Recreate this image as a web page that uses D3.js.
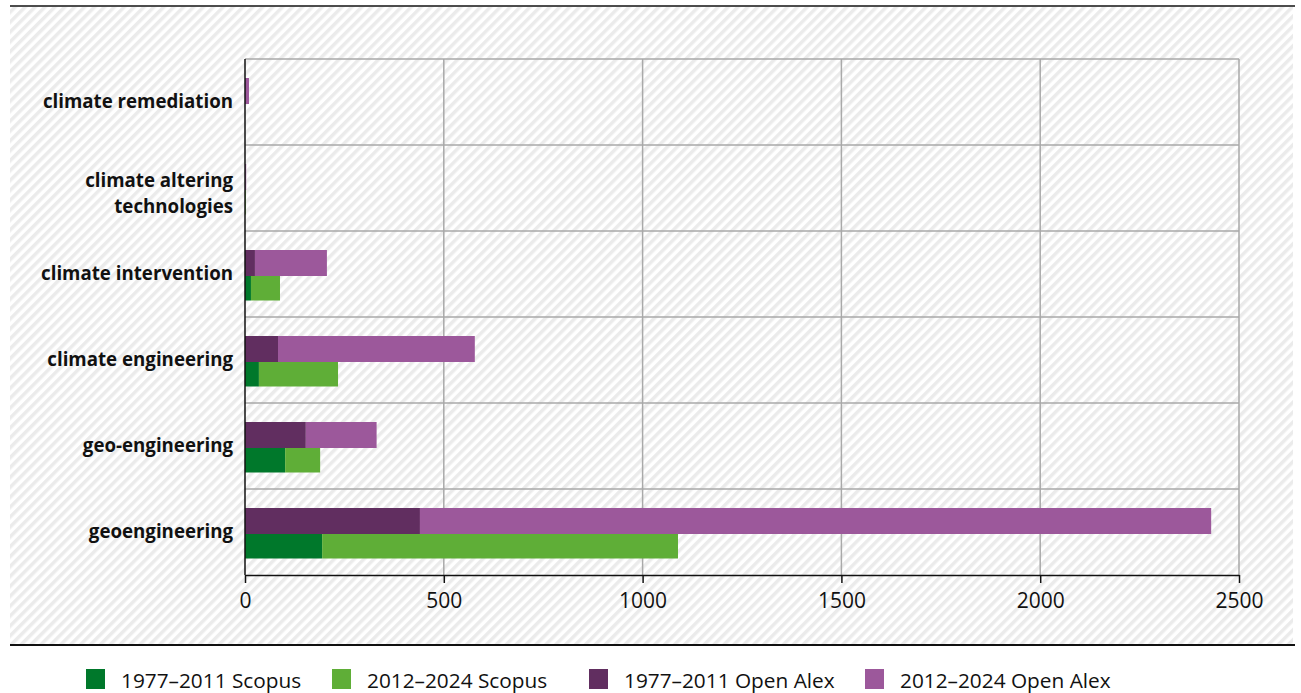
<!DOCTYPE html>
<html>
<head>
<meta charset="utf-8">
<script src="https://cdn.jsdelivr.net/npm/d3@7"></script>
<style>
  body { margin: 0; background: #fff; }
  svg { display: block; font-family: "Open Sans", "Noto Sans", sans-serif; }
</style>
</head>
<body>
<svg id="svg" width="1301" height="693"></svg>
<script>
// categories from top to bottom
var categories = [
  "climate remediation",
  "climate altering technologies",
  "climate intervention",
  "climate engineering",
  "geo-engineering",
  "geoengineering"
];
// Open Alex counts
var openAlexEarly = [0, 0, 25, 83, 153, 440];
var openAlexLate = [10, 3, 181, 495, 178, 1990];
// Scopus counts
var scopusEarly = [0, 0, 15, 35, 101, 194];
var scopusLate = [0, 2, 73, 199, 88, 895];

var xTicks = [0, 500, 1000, 1500, 2000, 2500];
var legendLabels = ["1977–2011 Scopus", "2012–2024 Scopus", "1977–2011 Open Alex", "2012–2024 Open Alex"];
var colors = ["#00782b", "#5fae37", "#612e60", "#9c589b"];

var svg = d3.select("#svg");

// hatched background
var pat = svg.append("defs").append("pattern")
  .attr("id", "hatch")
  .attr("patternUnits", "userSpaceOnUse")
  .attr("width", 7)
  .attr("height", 7)
  .attr("patternTransform", "rotate(45)");
pat.append("rect").attr("width", 7).attr("height", 7).attr("fill", "#fff");
pat.append("rect").attr("width", 3.5).attr("height", 7).attr("fill", "#ebebeb");

svg.append("rect")
  .attr("x", 10).attr("y", 7)
  .attr("width", 1283).attr("height", 637)
  .attr("fill", "url(#hatch)");

svg.append("line").attr("x1", 10).attr("x2", 1295).attr("y1", 6).attr("y2", 6)
  .attr("stroke", "#111").attr("stroke-width", 1.5);
svg.append("line").attr("x1", 10).attr("x2", 1295).attr("y1", 645).attr("y2", 645)
  .attr("stroke", "#111").attr("stroke-width", 2);

var plotLeft = 245, plotRight = 1239, plotTop = 59, plotBottom = 575;

var x = d3.scaleLinear().domain([0, 2500]).range([plotLeft, plotRight]);
var y = d3.scaleBand().domain(categories).range([plotTop, plotBottom]);

// gridlines
var grid = svg.append("g").attr("stroke", "#a9a9a9").attr("stroke-width", 1.5);
grid.selectAll(".vg").data(xTicks.slice(1)).enter().append("line")
  .attr("x1", d => x(d)).attr("x2", d => x(d))
  .attr("y1", plotTop).attr("y2", plotBottom);
grid.selectAll(".hg").data(categories).enter().append("line")
  .attr("x1", plotLeft).attr("x2", plotRight)
  .attr("y1", d => y(d)).attr("y2", d => y(d));

// bars: Open Alex above the band centre, Scopus below
var shift = 2;
function drawStack(early, late, cEarly, cLate, offset, h) {
  var g = svg.append("g");
  categories.forEach(function (c, i) {
    var yy = y(c) + y.bandwidth() / 2 + shift + offset;
    g.append("rect")
      .attr("x", x(0)).attr("y", yy)
      .attr("width", x(early[i]) - x(0)).attr("height", h)
      .attr("fill", cEarly);
    g.append("rect")
      .attr("x", x(early[i])).attr("y", yy)
      .attr("width", x(early[i] + late[i]) - x(early[i])).attr("height", h)
      .attr("fill", cLate);
  });
}
drawStack(openAlexEarly, openAlexLate, colors[2], colors[3], -26, 26);
drawStack(scopusEarly, scopusLate, colors[0], colors[1], 0, 24.5);

// axes
var xAxis = svg.append("g")
  .attr("transform", `translate(0, ${plotBottom})`)
  .call(d3.axisBottom(x).tickValues(xTicks).tickSize(8).tickSizeOuter(0).tickPadding(10).tickFormat(d3.format("d")));
xAxis.select(".domain").attr("stroke", "#111").attr("stroke-width", 1.5);
xAxis.selectAll(".tick line").attr("stroke", "#111").attr("stroke-width", 1.5);
xAxis.selectAll("text").attr("font-size", 21).attr("fill", "#111")
  .attr("font-family", "'Open Sans', sans-serif");

svg.append("line")
  .attr("x1", plotLeft).attr("x2", plotLeft).attr("y1", plotTop).attr("y2", plotBottom)
  .attr("stroke", "#111").attr("stroke-width", 1.5);

// category labels
var labelLines = {
  "climate altering technologies": ["climate altering", "technologies"]
};
categories.forEach(function (c) {
  var lines = labelLines[c] || [c];
  var cy = y(c) + y.bandwidth() / 2;
  var t = svg.append("text")
    .attr("x", 233)
    .attr("text-anchor", "end")
    .attr("font-size", 18.7)
    .attr("font-weight", "bold")
    .attr("fill", "#111");
  lines.forEach(function (l, k) {
    t.append("tspan")
      .attr("x", 233)
      .attr("y", cy + (k - (lines.length - 1) / 2) * 26 + (lines.length > 1 ? 11.5 : 6))
      .text(l);
  });
});

// legend
var legendX = [86, 332, 589, 865];
var legend = svg.append("g");
legendLabels.forEach(function (l, i) {
  legend.append("rect")
    .attr("x", legendX[i]).attr("y", 669)
    .attr("width", 19).attr("height", 20)
    .attr("fill", colors[i]);
  legend.append("text")
    .attr("x", legendX[i] + 35).attr("y", 688)
    .attr("font-size", 20.8)
    .attr("fill", "#111")
    .text(l);
});
</script>
</body>
</html>
